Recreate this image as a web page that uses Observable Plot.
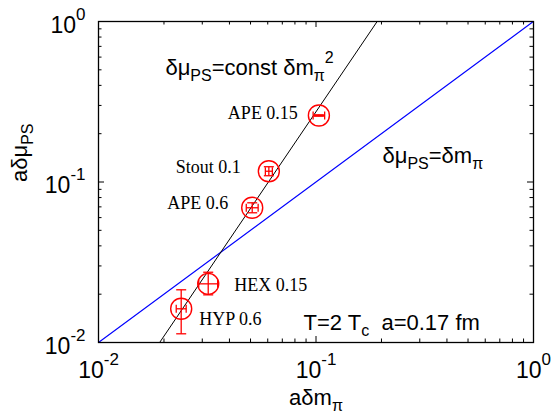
<!DOCTYPE html>
<html><head><meta charset="utf-8">
<script src="https://cdn.jsdelivr.net/npm/d3@7"></script>
<script src="https://cdn.jsdelivr.net/npm/@observablehq/plot@0.6"></script>
<style>body{margin:0;background:#fff}</style>
</head><body><div id="chart"></div>
<script>
// ---- data ----
const pointLabels = ["APE 0.15", "Stout 0.1", "APE 0.6", "HEX 0.15", "HYP 0.6"];
const mPi    = [0.1031, 0.0607, 0.0509, 0.03195, 0.0240];
const mPiLo  = [0.0970, 0.0585, 0.0478, 0.0289, 0.02277];
const mPiHi  = [0.1096, 0.0630, 0.0542, 0.0353, 0.0253];
const muPS   = [0.2596, 0.1167, 0.0691, 0.0232, 0.01622];
const muLo   = [0.2570, 0.1094, 0.0643, 0.01981, 0.01133];
const muHi   = [0.2622, 0.1245, 0.0742, 0.0274, 0.0213];
const quadConst = 27.4;            // δμ = const·δm²
const lineRange = [0.01, 1];
const majorTicks = [0.01, 0.1, 1];
const minorTicks = [0.02,0.03,0.04,0.05,0.06,0.07,0.08,0.09,0.2,0.3,0.4,0.5,0.6,0.7,0.8,0.9];
const tickLabels = ["10^{-2}", "10^{-1}", "10^{0}"];
const xTitle = "aδm_{π}";
const yTitle = "aδμ_{PS}";
const annText = ["δμ_{PS}=const δm_{π}^{2}", "δμ_{PS}=δm_{π}", "T=2 T_{c}\u00a0 a=0.17 fm"];
const annX = [0.0203, 0.2021, 0.0876];
const annY = [0.461, 0.1304, 0.01205];

// ---- layout ----
const W = 551, H = 416, mL = 98, mR = 18, mT = 21, mB = 74;
const innerW = W - mL - mR, innerH = H - mT - mB;
const idx = pointLabels.map((_, i) => i);
const hcap = {draw(c, s) { const r = Math.sqrt(s / Math.PI); c.moveTo(-r, 0); c.lineTo(r, 0); }};
const vcap = {draw(c, s) { const r = Math.sqrt(s / Math.PI); c.moveTo(0, -r); c.lineTo(0, r); }};
const red = "#ff0000";
const labelOffsets = [[-21, 3, "end"], [-28, 2, "end"], [-24, 1, "end"], [26, 7, "start"], [18, 16, "start"]];

const marks = [
  // inward ticks on all four sides
  Plot.tickX(majorTicks, {x: d => d, insetTop: innerH - 6, stroke: "black"}),
  Plot.tickX(minorTicks, {x: d => d, insetTop: innerH - 3.5, stroke: "black"}),
  Plot.tickX(majorTicks, {x: d => d, insetBottom: innerH - 6, stroke: "black"}),
  Plot.tickX(minorTicks, {x: d => d, insetBottom: innerH - 3.5, stroke: "black"}),
  Plot.tickY(majorTicks, {y: d => d, insetRight: innerW - 6, stroke: "black"}),
  Plot.tickY(minorTicks, {y: d => d, insetRight: innerW - 3.5, stroke: "black"}),
  Plot.tickY(majorTicks, {y: d => d, insetLeft: innerW - 6, stroke: "black"}),
  Plot.tickY(minorTicks, {y: d => d, insetLeft: innerW - 3.5, stroke: "black"}),
  Plot.axisX(majorTicks, {anchor: "bottom", tickSize: 0, tickPadding: 19, fontSize: 23,
    tickFormat: d => tickLabels[majorTicks.indexOf(d)], label: null}),
  Plot.axisY(majorTicks, {anchor: "left", tickSize: 0, tickPadding: 13, fontSize: 23, dy: 4,
    tickFormat: d => tickLabels[majorTicks.indexOf(d)], label: null}),
  // reference lines
  Plot.line(lineRange, {x: d => d, y: d => d, stroke: "#0000ff", strokeWidth: 1.2, clip: true}),
  Plot.line(lineRange, {x: d => d, y: d => quadConst * d * d, stroke: "black", strokeWidth: 1, clip: true}),
  // error bars
  Plot.link(idx, {x1: i => mPi[i], x2: i => mPi[i], y1: i => muLo[i], y2: i => muHi[i], stroke: red, strokeWidth: 1.3}),
  Plot.link(idx, {x1: i => mPiLo[i], x2: i => mPiHi[i], y1: i => muPS[i], y2: i => muPS[i], stroke: red, strokeWidth: 1.3}),
  Plot.dot(idx, {x: i => mPi[i], y: i => muLo[i], symbol: hcap, r: 5, stroke: red, fill: "none", strokeWidth: 1.3}),
  Plot.dot(idx, {x: i => mPi[i], y: i => muHi[i], symbol: hcap, r: 5, stroke: red, fill: "none", strokeWidth: 1.3}),
  Plot.dot(idx, {x: i => mPiLo[i], y: i => muPS[i], symbol: vcap, r: 4, stroke: red, fill: "none", strokeWidth: 1.3}),
  Plot.dot(idx, {x: i => mPiHi[i], y: i => muPS[i], symbol: vcap, r: 4, stroke: red, fill: "none", strokeWidth: 1.3}),
  Plot.dot(idx, {x: i => mPi[i], y: i => muPS[i], r: 10.5, stroke: red, fill: "none", strokeWidth: 1.4}),
  // point labels
  ...idx.map(i => Plot.text([i], {x: j => mPi[j], y: j => muPS[j], text: j => pointLabels[j],
    dx: labelOffsets[i][0], dy: labelOffsets[i][1], textAnchor: labelOffsets[i][2], lineAnchor: "bottom",
    fontFamily: "Liberation Serif, Times New Roman, serif", fontSize: 18, fill: "black"})),
  // annotations
  Plot.text(annText, {x: (d, i) => annX[i], y: (d, i) => annY[i], text: d => d, textAnchor: "start",
    lineAnchor: "bottom", fontSize: 22, fill: "black"}),
  // axis titles
  Plot.text([xTitle], {frameAnchor: "bottom", text: d => d, dy: 62, lineAnchor: "bottom", fontSize: 22, fill: "black"}),
  Plot.text([yTitle], {frameAnchor: "left", text: d => d, dx: -72, rotate: -90, lineAnchor: "bottom", fontSize: 22, fill: "black"}),
  Plot.frame({stroke: "black", strokeWidth: 1.3})
];

const chart = Plot.plot({
  width: W, height: H,
  marginLeft: mL, marginRight: mR, marginTop: mT, marginBottom: mB,
  x: {type: "log", domain: [0.01, 1]},
  y: {type: "log", domain: [0.01, 1]},
  style: {fontFamily: "Liberation Sans, Arial, sans-serif", fontSize: "22px", background: "white", color: "black"},
  marks
});
document.getElementById("chart").appendChild(chart);

// ---- rich text: _{sub} and ^{sup} ----
const NS = "http://www.w3.org/2000/svg";
chart.querySelectorAll("text").forEach(el => {
  const raw = el.textContent;
  if (!/[_^]\{/.test(raw)) return;
  const fs = parseFloat(getComputedStyle(el).fontSize) || 22;
  el.textContent = "";
  let shift = 0;
  for (const m of raw.matchAll(/([_^])\{([^}]*)\}|([^_^]+)/g)) {
    const t = document.createElementNS(NS, "tspan");
    let target = 0, str = m[3];
    if (m[1] === "_") { target = Math.round(fs * 0.25); str = m[2]; t.setAttribute("font-size", Math.round(fs * 0.72)); }
    else if (m[1] === "^") { target = -Math.round(fs * 0.55); str = m[2]; t.setAttribute("font-size", Math.round(fs * 0.72)); }
    if (target !== shift) t.setAttribute("dy", target - shift);
    shift = target;
    t.textContent = str;
    el.appendChild(t);
  }
});
</script>
</body></html>
